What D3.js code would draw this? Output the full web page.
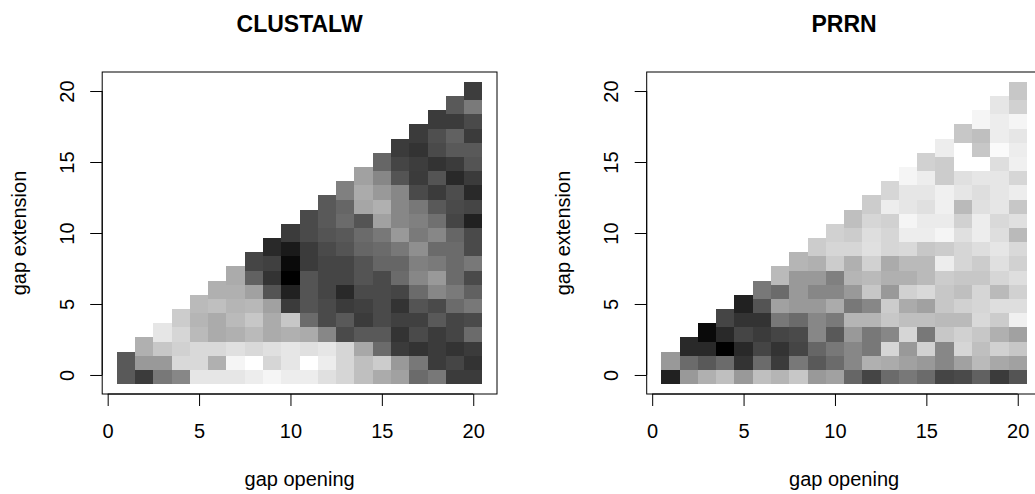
<!DOCTYPE html>
<html>
<head>
<meta charset="utf-8">
<script src="https://cdn.jsdelivr.net/npm/d3@7"></script>
<style>
  html, body { margin: 0; padding: 0; background: #ffffff; }
  svg { display: block; font-family: "Liberation Sans", Arial, Helvetica, sans-serif; }
</style>
</head>
<body>
<svg id="chart" width="1035" height="494"></svg>
<script>
// Grid of alignment parameters
const gapOpening = [1, 2, 3, 4, 5, 6, 7, 8, 9, 10, 11, 12, 13, 14, 15, 16, 17, 18, 19, 20];
const gapExtension = [0, 1, 2, 3, 4, 5, 6, 7, 8, 9, 10, 11, 12, 13, 14, 15, 16, 17, 18, 19, 20];
const tickValues = [0, 5, 10, 15, 20];
const titles = ["CLUSTALW", "PRRN"];

// Grey level of each cell (0 = black, 100 = white).
// One array per gap opening, indexed by gap extension 0..opening.
const clustalw = [
  [35, 35],
  [23, 60, 69],
  [47, 60, 78, 90],
  [53, 85, 82, 84, 80],
  [90, 85, 85, 73, 71, 73],
  [90, 69, 85, 67, 67, 75, 69],
  [90, 96, 88, 69, 73, 71, 69, 67],
  [93, 100, 85, 73, 78, 72, 63, 38, 27],
  [96, 84, 88, 67, 67, 63, 33, 20, 25, 16],
  [93, 90, 90, 69, 78, 23, 13, 0, 4, 10, 23],
  [93, 100, 88, 67, 42, 33, 33, 33, 23, 23, 29, 29],
  [88, 93, 90, 53, 29, 29, 27, 27, 27, 29, 33, 35, 35],
  [84, 84, 84, 29, 35, 23, 16, 27, 27, 33, 35, 42, 40, 50],
  [75, 75, 66, 35, 23, 25, 29, 33, 33, 40, 42, 33, 65, 67, 63],
  [67, 80, 42, 35, 29, 29, 29, 29, 40, 42, 47, 63, 69, 60, 53, 40],
  [63, 60, 23, 20, 25, 20, 27, 42, 40, 47, 60, 53, 53, 53, 33, 27, 23],
  [42, 47, 20, 29, 25, 33, 42, 53, 50, 56, 48, 50, 47, 29, 23, 24, 20, 23],
  [47, 23, 23, 23, 35, 29, 53, 60, 48, 42, 53, 44, 35, 23, 33, 20, 29, 31, 23],
  [23, 27, 20, 27, 27, 42, 48, 42, 42, 42, 40, 27, 29, 30, 16, 23, 35, 38, 23, 35],
  [23, 20, 23, 42, 29, 47, 38, 29, 47, 29, 29, 13, 27, 16, 23, 33, 35, 23, 29, 48, 24]
];

const prrn = [
  [13, 60],
  [60, 42, 16],
  [69, 35, 16, 4],
  [75, 42, 0, 16, 27],
  [60, 20, 16, 27, 20, 13],
  [75, 42, 27, 23, 20, 33, 47],
  [71, 23, 20, 27, 47, 63, 42, 73],
  [78, 47, 27, 29, 42, 60, 60, 60, 71],
  [60, 35, 40, 53, 53, 60, 53, 60, 69, 80],
  [63, 42, 47, 35, 48, 67, 53, 50, 80, 84, 82],
  [40, 53, 53, 60, 71, 47, 60, 71, 69, 84, 80, 75],
  [27, 69, 47, 47, 71, 53, 78, 73, 82, 88, 87, 84, 80],
  [42, 67, 84, 53, 78, 80, 60, 69, 67, 84, 84, 82, 93, 84],
  [47, 63, 60, 84, 75, 67, 82, 69, 73, 85, 93, 96, 90, 90, 96],
  [42, 60, 82, 47, 75, 63, 85, 73, 73, 78, 93, 92, 88, 90, 93, 82],
  [27, 53, 53, 78, 73, 78, 78, 80, 93, 80, 96, 92, 94, 94, 80, 80, 93],
  [29, 63, 84, 82, 73, 82, 75, 78, 84, 84, 88, 82, 73, 90, 88, 100, 100, 78],
  [38, 73, 75, 78, 85, 84, 84, 78, 80, 87, 93, 93, 88, 87, 90, 100, 78, 75, 96],
  [23, 66, 82, 69, 80, 87, 73, 84, 88, 90, 87, 85, 90, 90, 90, 87, 98, 93, 93, 90],
  [33, 63, 78, 63, 94, 87, 82, 87, 82, 85, 73, 88, 78, 93, 84, 94, 93, 90, 96, 82, 78]
];

const panelData = [clustalw, prrn];

// Layout (pixels)
const plotTop = 72, plotBottom = 394;
const plotLefts = [102.2, 646.7];
const plotWidth = 394.8;
const lineH = 24.1;            // one margin line
const tickLen = 12;

const svg = d3.select("#chart");
const grey = d3.scaleLinear().domain([0, 100]).range(["#000000", "#ffffff"]);

panelData.forEach((values, i) => {
  const left = plotLefts[i];
  const right = left + plotWidth;
  const cx = (left + right) / 2;
  const cy = (plotTop + plotBottom) / 2;

  // axis ranges padded by 4% like the usual plotting defaults
  const x = d3.scaleLinear().domain([-0.3, 21.3]).range([left, right]);
  const y = d3.scaleLinear().domain([-1.34, 21.34]).range([plotBottom, plotTop]);

  const cells = [];
  values.forEach((col, ci) => {
    col.forEach((v, ei) => {
      cells.push({ go: gapOpening[ci], ge: gapExtension[ei], v: v });
    });
  });
  // lower extensions first: each block overlaps the lower part of the next one up
  cells.sort((a, b) => a.ge - b.ge || a.go - b.go);

  const g = svg.append("g");

  g.append("g")
    .attr("shape-rendering", "crispEdges")
    .selectAll("rect")
    .data(cells)
    .join("rect")
    .attr("x", d => x(d.go - 0.5))
    .attr("width", d => x(d.go + 0.5) - x(d.go - 0.5))
    .attr("y", d => y(d.ge + 0.65))
    .attr("height", d => y(d.ge - 0.65) - y(d.ge + 0.65))
    .attr("fill", d => grey(d.v));

  // frame
  g.append("rect")
    .attr("x", left)
    .attr("y", plotTop)
    .attr("width", plotWidth)
    .attr("height", plotBottom - plotTop)
    .attr("fill", "none")
    .attr("stroke", "#000")
    .attr("stroke-width", 1);

  // x axis
  const gx = g.append("g")
    .attr("transform", `translate(0,${plotBottom})`)
    .call(d3.axisBottom(x).tickValues(tickValues).tickSize(tickLen).tickSizeOuter(0));
  gx.select(".domain").remove();
  gx.append("line")
    .attr("x1", x(tickValues[0])).attr("x2", x(tickValues[tickValues.length - 1]))
    .attr("stroke", "#000");
  gx.selectAll(".tick line").attr("stroke", "#000");
  gx.selectAll(".tick text")
    .attr("y", 44)
    .attr("dy", null)
    .attr("fill", "#000")
    .style("font-size", "20px")
    .style("font-family", "'Liberation Sans', Arial, sans-serif");

  // y axis
  const gy = g.append("g")
    .attr("transform", `translate(${left},0)`)
    .call(d3.axisLeft(y).tickValues(tickValues).tickSize(tickLen).tickSizeOuter(0));
  gy.select(".domain").remove();
  gy.append("line")
    .attr("y1", y(tickValues[0])).attr("y2", y(tickValues[tickValues.length - 1]))
    .attr("stroke", "#000");
  gy.selectAll(".tick line").attr("stroke", "#000");
  gy.selectAll(".tick text")
    .attr("x", null)
    .attr("dy", null)
    .attr("text-anchor", "middle")
    .attr("transform", "translate(-28.7,0) rotate(-90)")
    .attr("fill", "#000")
    .style("font-size", "20px")
    .style("font-family", "'Liberation Sans', Arial, sans-serif");

  // titles and axis labels
  g.append("text")
    .attr("x", cx)
    .attr("y", 31.5)
    .attr("text-anchor", "middle")
    .style("font-size", "23px")
    .style("font-weight", "bold")
    .text(titles[i]);

  g.append("text")
    .attr("x", cx)
    .attr("y", plotBottom + 3.83 * lineH)
    .attr("text-anchor", "middle")
    .style("font-size", "20px")
    .text("gap opening");

  g.append("text")
    .attr("transform", `translate(${left - 3.17 * lineH},${cy}) rotate(-90)`)
    .attr("text-anchor", "middle")
    .style("font-size", "20px")
    .text("gap extension");
});
</script>
</body>
</html>
